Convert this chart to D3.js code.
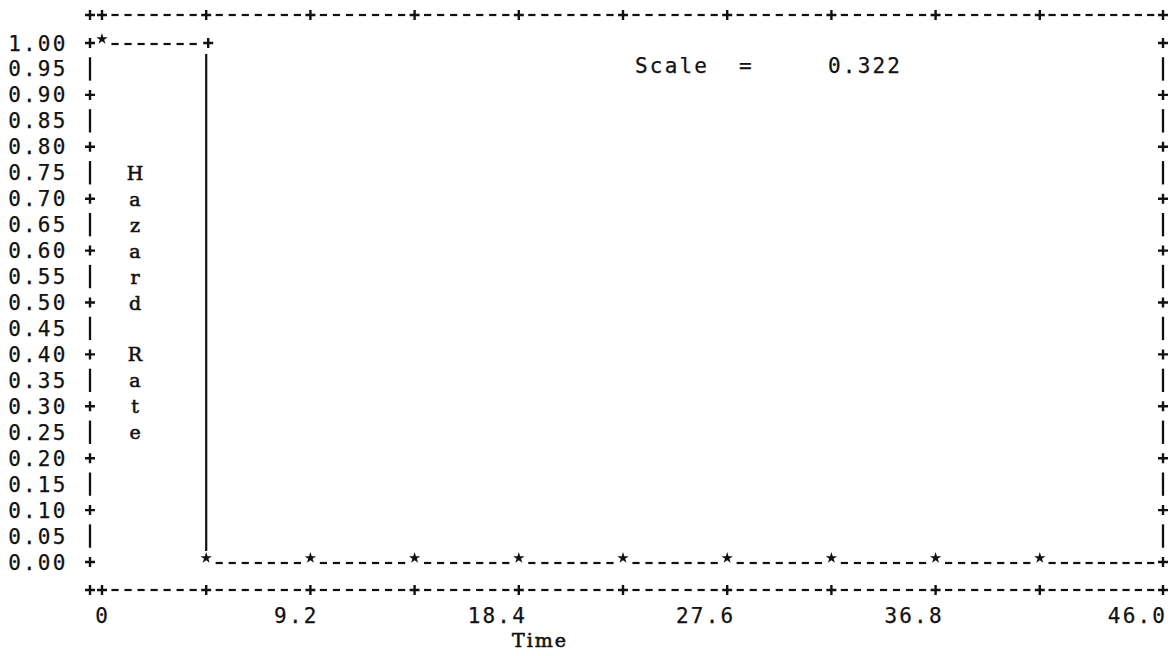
<!DOCTYPE html>
<html>
<head>
<meta charset="utf-8">
<script src="https://cdn.jsdelivr.net/npm/d3@7/dist/d3.min.js"></script>
<style>
  html, body { margin: 0; padding: 0; background: #fff; }
  svg { display: block; }
</style>
</head>
<body>
<div id="chart"></div>
<script>
// ---- data ----
const times = [0, 4.6, 9.2, 13.8, 18.4, 23.0, 27.6, 32.2, 36.8, 41.4];
const hazard = [1.00, 0.00, 0.00, 0.00, 0.00, 0.00, 0.00, 0.00, 0.00, 0.00];
const xTickValues = [0, 9.2, 18.4, 27.6, 36.8, 46.0];
const xTickLabels = ["0", "9.2", "18.4", "27.6", "36.8", "46.0"];
const xMinorTicks = [0, 4.6, 9.2, 13.8, 18.4, 23.0, 27.6, 32.2, 36.8, 41.4];
const yTickValues = [1.00, 0.95, 0.90, 0.85, 0.80, 0.75, 0.70, 0.65, 0.60, 0.55, 0.50,
                     0.45, 0.40, 0.35, 0.30, 0.25, 0.20, 0.15, 0.10, 0.05, 0.00];
const yTickLabels = ["1.00", "0.95", "0.90", "0.85", "0.80", "0.75", "0.70", "0.65", "0.60", "0.55", "0.50",
                     "0.45", "0.40", "0.35", "0.30", "0.25", "0.20", "0.15", "0.10", "0.05", "0.00"];
const yLabelChars = ["H", "a", "z", "a", "r", "d", "", "R", "a", "t", "e"];
const yLabelRows = [0.75, 0.70, 0.65, 0.60, 0.55, 0.50, 0.45, 0.40, 0.35, 0.30, 0.25];
const xTitle = "Time";
const scaleText = "Scale  =     0.322";

// ---- layout ----
const W = 1176, H = 656;
const x = d3.scaleLinear().domain([0, 46]).range([102, 1144]);
const y = d3.scaleLinear().domain([0, 1]).range([562, 43]);
const rowH = (y(0) - y(1)) / 20;
const colW = 12.95;
const frameL = 90, frameR = 1163;
const frameT = y(1) - 28, frameB = y(0) + 28;
const ink = "#111";
const monoFont = "'DejaVu Sans Mono', monospace";
const serifFont = "'DejaVu Serif', serif";

const svg = d3.select("#chart").append("svg")
  .attr("width", W).attr("height", H)
  .attr("viewBox", `0 0 ${W} ${H}`);
svg.append("rect").attr("width", W).attr("height", H).attr("fill", "#fff");

const g = svg.append("g");

function plus(cx, cy) {
  g.append("path")
    .attr("d", `M${cx - 5},${cy}H${cx + 5}M${cx},${cy - 5}V${cy + 5}`)
    .attr("stroke", ink).attr("stroke-width", 2.4).attr("fill", "none");
}
function vbar(cx, cy) {
  g.append("line")
    .attr("x1", cx).attr("x2", cx)
    .attr("y1", cy - rowH * 0.45).attr("y2", cy + rowH * 0.45)
    .attr("stroke", ink).attr("stroke-width", 2.3);
}
function dashes(x1, x2, yy) {
  const n = Math.round((x2 - x1) / colW) - 1;
  for (let k = 1; k <= n; k++) {
    const cx = x1 + (x2 - x1) * k / (n + 1);
    g.append("line")
      .attr("x1", cx - 3.6).attr("x2", cx + 3.6)
      .attr("y1", yy).attr("y2", yy)
      .attr("stroke", ink).attr("stroke-width", 2.2);
  }
}

// ---- top & bottom borders ----
[frameT, frameB].forEach(by => {
  const pts = [frameL].concat(xMinorTicks.map(t => x(t))).concat([frameR]);
  for (let i = 0; i < pts.length - 1; i++) dashes(pts[i], pts[i + 1], by);
  pts.forEach(px => plus(px, by));
});

// ---- left & right borders ----
yTickValues.forEach((v, i) => {
  const major = Math.round(v * 100) % 10 === 0;
  [frameL, frameR].forEach(bx => {
    if (major) plus(bx, y(v)); else vbar(bx, y(v));
  });
});

// ---- y tick labels ----
g.selectAll("text.ylab").data(yTickValues).enter().append("text")
  .attr("class", "ylab")
  .attr("x", 67.5).attr("y", d => y(d) + 7.5)
  .attr("text-anchor", "end")
  .attr("font-family", monoFont).attr("font-size", 21)
  .attr("letter-spacing", 2.2)
  .attr("fill", ink).attr("stroke", ink).attr("stroke-width", 0.25)
  .text((d, i) => yTickLabels[i]);

// ---- x tick labels ----
g.selectAll("text.xlab").data(xTickValues).enter().append("text")
  .attr("class", "xlab")
  .attr("x", (d, i) => (i === xTickValues.length - 1 ? frameR + 2 : x(d) + 6) + 2.2)
  .attr("y", frameB + 33)
  .attr("text-anchor", "end")
  .attr("font-family", monoFont).attr("font-size", 21)
  .attr("letter-spacing", 2.2)
  .attr("fill", ink).attr("stroke", ink).attr("stroke-width", 0.25)
  .text((d, i) => xTickLabels[i]);

// ---- axis titles ----
g.selectAll("text.ytitle").data(yLabelRows).enter().append("text")
  .attr("class", "ytitle")
  .attr("x", 135).attr("y", d => y(d) + 7)
  .attr("text-anchor", "middle")
  .attr("font-family", serifFont).attr("font-size", 19)
  .attr("fill", ink).attr("stroke", ink).attr("stroke-width", 0.6)
  .text((d, i) => yLabelChars[i]);

g.append("text")
  .attr("x", 540).attr("y", frameB + 57)
  .attr("text-anchor", "middle")
  .attr("font-family", serifFont).attr("font-size", 19)
  .attr("letter-spacing", 2)
  .attr("fill", ink).attr("stroke", ink).attr("stroke-width", 0.6)
  .text(xTitle);

g.append("text")
  .attr("x", 635).attr("y", y(0.95) + 4)
  .attr("font-family", monoFont).attr("font-size", 21)
  .attr("letter-spacing", 2.2)
  .attr("xml:space", "preserve")
  .style("white-space", "pre")
  .attr("fill", ink).attr("stroke", ink).attr("stroke-width", 0.25)
  .text(scaleText);

// ---- step curve ----
const pts = times.map((t, i) => ({ t, h: hazard[i] }));
for (let i = 0; i < pts.length; i++) {
  const p = pts[i];
  if (i < pts.length - 1) {
    const q = pts[i + 1];
    dashes(x(p.t), x(q.t), y(p.h) + 1);
    if (q.h !== p.h) {
      plus(x(q.t) + 2, y(p.h));
      g.append("line")
        .attr("x1", x(q.t)).attr("x2", x(q.t))
        .attr("y1", Math.min(y(p.h), y(q.h)) + 11)
        .attr("y2", Math.max(y(p.h), y(q.h)) - 11)
        .attr("stroke", ink).attr("stroke-width", 2.2);
    }
  } else {
    dashes(x(p.t), frameR, y(p.h) + 1);
  }
}
g.selectAll("path.star").data(pts).enter().append("path")
  .attr("class", "star")
  .attr("transform", d => `translate(${x(d.t)},${y(d.h) - 4})`)
  .attr("d", d3.symbol().type(d3.symbolStar).size(40))
  .attr("fill", ink);
</script>
</body>
</html>
